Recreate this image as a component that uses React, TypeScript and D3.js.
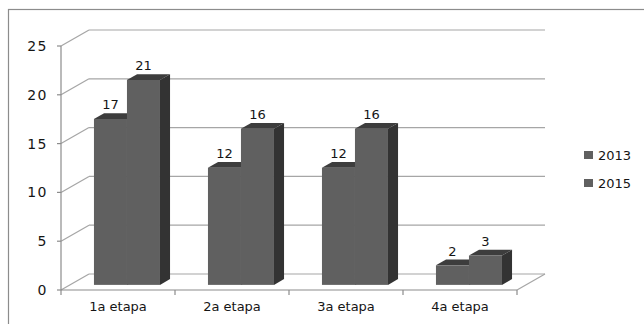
import React from "react";
import * as d3 from "d3";

const categories = ["1a etapa", "2a etapa", "3a etapa", "4a etapa"];
const seriesNames = ["2013", "2015"];
const values2013 = [17, 12, 12, 2];
const values2015 = [21, 16, 16, 3];
const yTicks = [0, 5, 10, 15, 20, 25];

export default function App() {
  const W = 644, H = 324;
  const x0 = 61, x1 = 517;
  const yBottom = 290, yTop = 46;
  const depthX = 28, depthY = -16;
  const barFrac0 = 0.32, barFrac1 = 0.68;
  const barW = 33;

  const x = d3.scaleBand<string>().domain(categories).range([x0, x1]);
  const y = d3.scaleLinear().domain([0, 25]).range([yBottom, yTop]);
  const sub = d3.scaleBand<string>().domain(seriesNames).range([-barW, barW]);

  const series = [values2013, values2015];
  const font = "'DejaVu Sans', sans-serif";
  const gridColor = "#a6a6a6";
  const textColor = "#151515";

  const bars: React.ReactNode[] = [];
  const labels: React.ReactNode[] = [];
  categories.forEach((c, ci) => {
    const cx = (x(c) as number) + x.bandwidth() / 2;
    seriesNames.forEach((s, si) => {
      const v = series[si][ci];
      const fx = cx + (sub(s) as number) + depthX * barFrac0;
      const w = sub.bandwidth();
      const fb = y(0) + depthY * barFrac0;
      const ft = y(v) + depthY * barFrac0;
      const dx = depthX * (barFrac1 - barFrac0);
      const dy = depthY * (barFrac1 - barFrac0);
      bars.push(
        <g key={c + s}>
          <rect x={fx} y={ft} width={w} height={fb - ft} fill="#606060" />
          <polygon
            points={`${fx},${ft} ${fx + dx},${ft + dy} ${fx + w + dx},${ft + dy} ${fx + w},${ft}`}
            fill="#3d3d3d"
          />
          <polygon
            points={`${fx + w},${ft} ${fx + w + dx},${ft + dy} ${fx + w + dx},${fb + dy} ${fx + w},${fb}`}
            fill="#333333"
          />
        </g>
      );
      labels.push(
        <text
          key={"l" + c + s}
          x={fx + w / 2}
          y={ft + dy - 4}
          textAnchor="middle"
          fontSize={13}
          fontFamily={font}
          fill={textColor}
        >
          {v}
        </text>
      );
    });
  });

  return (
    <svg width={W} height={H} style={{ position: "absolute", left: 0, top: 0, background: "#fff" }}>
      <rect x={8.5} y={9.5} width={640} height={330} fill="#fff" stroke="#8c8c8c" strokeWidth={1.2} />
      {yTicks.map((t) => (
        <g key={"g" + t}>
          <line x1={x0} y1={y(t)} x2={x0 + depthX} y2={y(t) + depthY} stroke={gridColor} strokeWidth={1.2} />
          <line x1={x0 + depthX} y1={y(t) + depthY} x2={x1 + depthX} y2={y(t) + depthY} stroke={gridColor} strokeWidth={1.2} />
        </g>
      ))}
      <line x1={x1} y1={y(0)} x2={x1 + depthX} y2={y(0) + depthY} stroke={gridColor} strokeWidth={1.2} />
      <line x1={x0} y1={y(0)} x2={x0} y2={y(25)} stroke="#8c8c8c" strokeWidth={1.2} />
      {yTicks.map((t) => (
        <g key={"yt" + t}>
          <line x1={x0 - 4} y1={y(t)} x2={x0} y2={y(t)} stroke="#8c8c8c" strokeWidth={1.2} />
          <text
            x={48}
            y={y(t) + 5}
            textAnchor="end"
            fontSize={14}
            letterSpacing={1.5}
            fontFamily={font}
            fill={textColor}
          >
            {t}
          </text>
        </g>
      ))}
      <line x1={x0} y1={y(0)} x2={x1} y2={y(0)} stroke="#8c8c8c" strokeWidth={1.2} />
      {[...categories.map((c) => x(c) as number), x1].map((px, i) => (
        <line key={"xt" + i} x1={px} y1={y(0)} x2={px} y2={y(0) + 5} stroke="#8c8c8c" strokeWidth={1.2} />
      ))}
      {categories.map((c) => (
        <text
          key={"xl" + c}
          x={(x(c) as number) + x.bandwidth() / 2}
          y={311}
          textAnchor="middle"
          fontSize={13}
          fontFamily={font}
          fill={textColor}
        >
          {c}
        </text>
      ))}
      {bars}
      {labels}
      {seriesNames.map((s, i) => (
        <g key={"lg" + s}>
          <rect x={584} y={151 + i * 28} width={9} height={8} fill="#606060" />
          <text x={598} y={160 + i * 28} fontSize={13} fontFamily={font} fill={textColor}>
            {s}
          </text>
        </g>
      ))}
    </svg>
  );
}
